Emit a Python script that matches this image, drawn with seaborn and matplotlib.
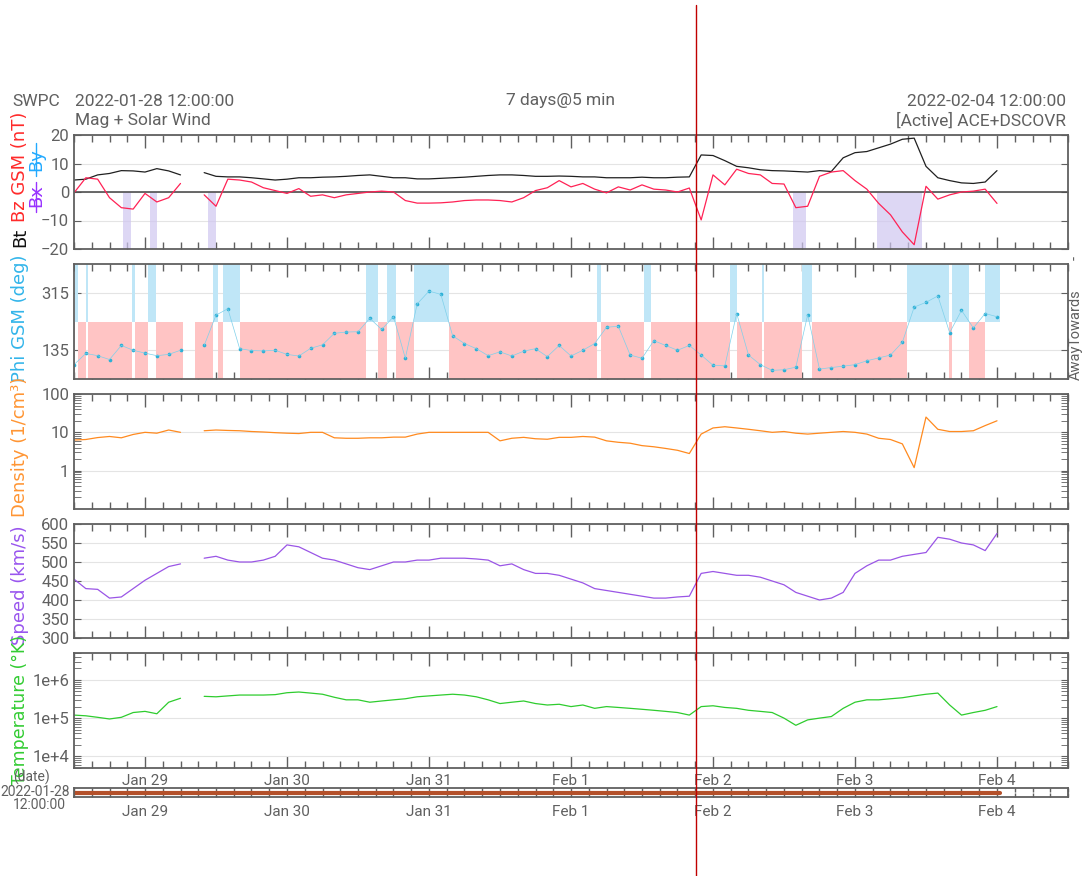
import seaborn as sns
import matplotlib.pyplot as plt
from matplotlib.lines import Line2D
from matplotlib.ticker import NullFormatter
import numpy as np
import pandas as pd

# DATA: one value every 2 hours, hours since 2022-01-28 12:00
hours = list(range(0, 157, 2))

bt = [4.2, 4.5, 6.0, 6.5, 7.5, 7.4, 7.0, 8.2, 7.4, 6.0,
      np.nan, 6.8, 5.5, 5.3, 5.3, 5.0, 4.6, 4.2, 4.5, 5.0,
      5.0, 5.2, 5.3, 5.5, 5.8, 6.0, 5.5, 5.0, 5.0, 4.6,
      4.6, 4.8, 5.0, 5.2, 5.5, 5.8, 6.0, 6.0, 5.8, 5.5,
      5.5, 5.6, 5.5, 5.3, 5.3, 5.0, 5.0, 5.0, 5.2, 5.0,
      5.0, 5.2, 5.3, 13.0, 12.8, 11.0, 9.0, 8.5, 7.8, 7.5,
      7.4, 7.2, 7.0, 7.5, 7.2, 12.0, 13.8, 14.2, 15.5, 16.8,
      18.5, 18.9, 9.0, 5.0, 4.0, 3.2, 3.0, 3.5, 7.5]

bz = [-0.3, 5.0, 4.5, -2.0, -5.5, -6.0, -0.5, -3.5, -2.0, 3.0,
      np.nan, -1.0, -5.0, 4.5, 4.2, 3.5, 1.5, 0.5, -0.5, 1.2,
      -1.5, -1.0, -2.0, -1.0, -0.5, 0.0, 0.3, 0.0, -3.0, -3.9,
      -3.9, -3.8, -3.5, -3.0, -2.8, -2.8, -3.0, -3.5, -2.0, 0.5,
      1.5, 4.0, 1.8, 3.0, 1.0, -0.3, 1.8, 0.7, 2.5, 1.0,
      0.7, 0.0, 1.4, -9.8, 6.0, 2.5, 8.0, 6.5, 6.0, 3.0,
      2.8, -5.5, -5.0, 5.5, 7.0, 7.5, 4.0, 1.0, -4.0, -8.0,
      -14.0, -18.5, 2.0, -2.5, -1.0, 0.0, 0.3, 1.0, -4.0]

phi = [90, 125, 118, 106, 150, 135, 126, 118, 122, 135,
       np.nan, 150, 245, 265, 140, 134, 133, 135, 122, 117,
       141, 152, 188, 192, 193, 235, 200, 240, 110, 280,
       320, 310, 180, 156, 140, 118, 130, 117, 132, 140,
       115, 150, 117, 135, 156, 207, 210, 120, 110, 165,
       150, 135, 150, 120, 88, 86, 250, 120, 90, 72,
       74, 82, 246, 76, 81, 85, 90, 102, 111, 120,
       160, 270, 285, 305, 190, 260, 205, 250, 240]

density = [6.3, 6.5, 7.3, 7.8, 7.2, 8.8, 10, 9.5, 11.5, 10,
           np.nan, 11, 11.5, 11.2, 11, 10.5, 10.2, 9.8, 9.5, 9.3,
           10, 10, 7.2, 7, 7, 7.2, 7.2, 7.5, 7.5, 9,
           10, 10, 10, 10, 10, 10, 6, 7, 7.4, 6.8,
           6.6, 7.4, 7.4, 7.8, 7.5, 6, 5.5, 5.2, 4.5, 4.2,
           3.8, 3.4, 2.8, 9, 13, 14, 13, 12, 11, 10,
           10.5, 9.5, 9, 9.5, 10, 10.5, 10, 9, 7, 6.5,
           5, 1.2, 25, 12, 10.5, 10.5, 11, 15, 20]

speed = [455, 430, 428, 405, 408, 430, 452, 470, 488, 495,
         np.nan, 510, 515, 505, 500, 500, 505, 515, 545, 540,
         525, 510, 505, 495, 485, 480, 490, 500, 500, 505,
         505, 510, 510, 510, 508, 505, 490, 495, 480, 470,
         470, 465, 455, 445, 430, 425, 420, 415, 410, 405,
         405, 408, 410, 470, 475, 470, 465, 465, 460, 450,
         440, 420, 410, 400, 405, 420, 470, 490, 505, 505,
         515, 520, 525, 565, 560, 550, 545, 530, 575]

temperature = [1.2e5, 1.15e5, 1.05e5, 9.5e4, 1.05e5, 1.4e5, 1.5e5, 1.3e5, 2.6e5, 3.3e5,
               np.nan, 3.7e5, 3.6e5, 3.8e5, 4.0e5, 4.0e5, 4.0e5, 4.1e5, 4.6e5, 4.8e5,
               4.5e5, 4.2e5, 3.5e5, 3.0e5, 3.0e5, 2.6e5, 2.8e5, 3.0e5, 3.2e5, 3.6e5,
               3.8e5, 4.0e5, 4.2e5, 4.0e5, 3.6e5, 3.0e5, 2.4e5, 2.6e5, 2.8e5, 2.4e5,
               2.2e5, 2.3e5, 2.0e5, 2.2e5, 1.8e5, 2.0e5, 1.9e5, 1.8e5, 1.7e5, 1.6e5,
               1.5e5, 1.4e5, 1.2e5, 2.0e5, 2.1e5, 1.9e5, 1.8e5, 1.6e5, 1.5e5, 1.4e5,
               1.0e5, 6.5e4, 9.0e4, 1.0e5, 1.1e5, 1.8e5, 2.6e5, 3.0e5, 3.0e5, 3.2e5,
               3.4e5, 3.8e5, 4.2e5, 4.5e5, 2.2e5, 1.2e5, 1.4e5, 1.6e5, 2.0e5]

# periods of strong southward Bz (hours)
bz_south_spans = [(8.3, 9.7), (12.9, 14.1), (22.7, 24.0), (121.6, 123.8), (135.7, 143.3)]
# periods in the "towards" sector, the rest of the data is "away"
towards_spans = [(0.2, 0.7), (2.0, 2.4), (9.8, 10.3), (12.5, 13.9), (23.5, 24.4),
                 (25.2, 28.0), (49.3, 51.3), (52.9, 54.4), (57.4, 63.4), (88.4, 89.1),
                 (96.4, 97.6), (110.8, 112.0), (116.2, 116.7), (123.0, 124.7),
                 (140.8, 147.9), (148.4, 151.3), (154.0, 156.5)]
data_gaps = [(18.5, 20.4)]
data_end = 156.5
cursor_hour = 105.2

day_ticks = [12, 36, 60, 84, 108, 132, 156]
day_labels = ['Jan 29', 'Jan 30', 'Jan 31', 'Feb 1', 'Feb 2', 'Feb 3', 'Feb 4']

df = pd.DataFrame({'hour': hours, 'bt': bt, 'bz': bz, 'phi': phi,
                   'density': density, 'speed': speed, 'temperature': temperature})
df['seg'] = df['bt'].isna().cumsum()

# LAYOUT
sns.set_style('white')
plt.rcParams['font.family'] = ['Roboto', 'DejaVu Sans']
GREY = '#606060'
W, H = 1086, 876
fig = plt.figure(figsize=(W / 100, H / 100), dpi=100)


def box(y0, y1, x0=74, x1=1068):
    return [x0 / W, 1 - y1 / H, (x1 - x0) / W, (y1 - y0) / H]


def style(ax, labels=False):
    for s in ax.spines.values():
        s.set_color(GREY)
        s.set_linewidth(1.3)
    ax.set_xlim(0, 168)
    ax.set_xticks(day_ticks)
    ax.set_xticks(np.arange(0, 169, 3), minor=True)
    ax.set_xticklabels(day_labels if labels else [])
    ax.tick_params(axis='x', which='both', direction='in', top=True, bottom=True,
                   colors=GREY, labelsize=11, width=1)
    ax.tick_params(axis='x', which='major', length=9)
    ax.tick_params(axis='x', which='minor', length=5)
    ax.tick_params(axis='y', which='both', direction='in', left=True, right=True,
                   colors=GREY, labelsize=12, length=5)
    ax.set_xlabel('')
    ax.set_ylabel('')


def draw_line(ax, col, color):
    d = df.dropna(subset=[col])
    sns.lineplot(data=d, x='hour', y=col, units='seg', estimator=None, sort=False,
                 color=color, lw=0.9, ax=ax, legend=False)


# Panel 1: magnetic field
ax1 = fig.add_axes(box(135, 249))
for h0, h1 in bz_south_spans:
    ax1.axvspan(h0, h1, ymin=0, ymax=0.5, color='#cfc6f0', alpha=0.7, lw=0)
ax1.axhline(0, color='#505050', lw=1.2)
draw_line(ax1, 'bt', '#202020')
draw_line(ax1, 'bz', '#ff2255')
ax1.set_ylim(-20, 20)
ax1.set_yticks([-20, -10, 0, 10, 20])
ax1.grid(axis='y', color='#e4e4e4', lw=0.8)
style(ax1)

# Panel 2: phi angle with sector shading
ax2 = fig.add_axes(box(264, 379))
covered = sorted(towards_spans + data_gaps)
away_spans = []
t = 0.0
for h0, h1 in covered:
    if h0 > t:
        away_spans.append((t, h0))
    t = max(t, h1)
if t < data_end:
    away_spans.append((t, data_end))
for h0, h1 in away_spans:
    ax2.axvspan(h0, h1, ymin=0, ymax=0.5, color='#ffc4c4', lw=0)
for h0, h1 in towards_spans:
    ax2.axvspan(h0, h1, ymin=0.5, ymax=1, color='#bfe6f7', lw=0)
draw_line(ax2, 'phi', '#7fd0ea')
sns.scatterplot(data=df, x='hour', y='phi', s=7, color='#2cb0d6', linewidth=0,
                ax=ax2, legend=False)
ax2.set_ylim(45, 405)
ax2.set_yticks([135, 315])
ax2.grid(axis='y', color='#e4e4e4', lw=0.8)
style(ax2)
for ln in ax2.lines:
    ln.set_linewidth(0.5)

# Panel 3: density
ax3 = fig.add_axes(box(394, 509))
draw_line(ax3, 'density', '#ff8a1f')
ax3.set_yscale('log')
ax3.set_ylim(0.1, 100)
ax3.set_yticks([1, 10, 100])
ax3.set_yticklabels(['1', '10', '100'])
ax3.yaxis.set_minor_formatter(NullFormatter())
ax3.grid(axis='y', which='major', color='#e4e4e4', lw=0.8)
style(ax3)

# Panel 4: speed
ax4 = fig.add_axes(box(524, 638))
draw_line(ax4, 'speed', '#9a55e6')
ax4.set_ylim(300, 600)
ax4.set_yticks(np.arange(300, 601, 50))
ax4.grid(axis='y', color='#e4e4e4', lw=0.8)
style(ax4)

# Panel 5: temperature
ax5 = fig.add_axes(box(653, 768))
draw_line(ax5, 'temperature', '#2ecc2e')
ax5.set_yscale('log')
ax5.set_ylim(5e3, 5e6)
ax5.set_yticks([1e4, 1e5, 1e6])
ax5.set_yticklabels(['1e+4', '1e+5', '1e+6'])
ax5.yaxis.set_minor_formatter(NullFormatter())
ax5.grid(axis='y', which='major', color='#e4e4e4', lw=0.8)
style(ax5, labels=True)
ax5.tick_params(axis='x', pad=4)

# Time range bar
ax6 = fig.add_axes(box(788, 797))
sns.lineplot(x=[hours[0], data_end], y=[0, 0], color='#b4502a', lw=3, ax=ax6)
ax6.set_ylim(-1, 1)
style(ax6, labels=True)
ax6.set_yticks([])
ax6.tick_params(axis='x', which='major', length=4, pad=6)
ax6.tick_params(axis='x', which='minor', length=3)


# Titles
def ftext(x, y, s, **kw):
    kw.setdefault('color', GREY)
    kw.setdefault('va', 'center')
    fig.text(x / W, 1 - y / H, s, **kw)


ftext(12, 101, 'SWPC', fontsize=12.5)
ftext(75, 101, '2022-01-28 12:00:00', fontsize=12.5)
ftext(75, 121, 'Mag + Solar Wind', fontsize=12.5)
ftext(560, 101, '7 days@5 min', fontsize=12.5, ha='center')
ftext(1066, 101, '2022-02-04 12:00:00', fontsize=12.5, ha='right')
ftext(1066, 121, '[Active] ACE+DSCOVR', fontsize=12.5, ha='right')

# Y labels
LAB = dict(rotation=90, ha='center', fontsize=13, family='DejaVu Sans')
ftext(20, 167, 'Bz GSM (nT)', color='#ff2a2a', **LAB)
ftext(20, 237, 'Bt', color='#111111', **LAB)
ftext(36, 196, 'Bx', color='#9933ff', **LAB)
ftext(36, 160, 'By', color='#22aaff', **LAB)
fig.add_artist(Line2D([36 / W, 36 / W], [1 - 212 / H, 1 - 182 / H], color='#9933ff', lw=1))
fig.add_artist(Line2D([36 / W, 36 / W], [1 - 176 / H, 1 - 143 / H], color='#22aaff', lw=1))
ftext(20, 318, 'Phi GSM (deg)', color='#33b5ea', **LAB)
ftext(20, 447, 'Density (1/cm³)', color='#ff9533', **LAB)
ftext(20, 585, 'Speed (km/s)', color='#9955ee', **LAB)
ftext(20, 710, 'Temperature (°K)', color='#33cc33', rotation=90, ha='center',
      fontsize=12.5, family='DejaVu Sans')

# Sector labels on the right
SEC = dict(rotation=90, ha='center', fontsize=10.5)
ftext(1076, 362, 'Away', **SEC)
ftext(1076, 318, 'Towards', **SEC)
ftext(1076, 258, '-', **SEC)

# Bar labels
ftext(50, 777, '(date)', ha='right', fontsize=10)
ftext(70, 792, '2022-01-28', ha='right', fontsize=10)
ftext(66, 805, '12:00:00', ha='right', fontsize=10)

# Cursor line
xc = ax1.transData.transform((cursor_hour, 0))[0] / fig.bbox.width
fig.add_artist(Line2D([xc, xc], [0, 1 - 5 / H], color='#c00000', lw=1.0))

fig.savefig('out.png', dpi=100)
